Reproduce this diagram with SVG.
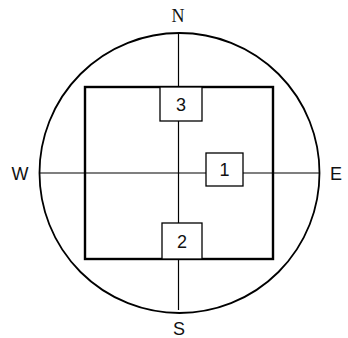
<svg xmlns="http://www.w3.org/2000/svg" width="348" height="338" viewBox="0 0 348 338">
<style>
.ln{stroke:#000;fill:none;stroke-width:1.2}
.thick{stroke:#000;fill:none;stroke-width:2.4}
.box{fill:#fff;stroke:#000;stroke-width:1.3}
.lbl{font-family:"Liberation Sans",Arial,sans-serif;font-size:18px;fill:#111;text-anchor:middle}
.serif{font-family:"Liberation Serif","Times New Roman",serif}
</style>
<rect width="348" height="338" fill="#fff"/>
<g id="circle"><circle cx="179.5" cy="173" r="140" fill="none" stroke="#000" stroke-width="1.8"/></g>
<g id="square"><rect class="thick" x="85" y="87" width="188" height="172"/></g>
<g id="connectors">
<line class="ln" x1="178.5" y1="33" x2="178.5" y2="87"/>
<line class="ln" x1="178.5" y1="121" x2="178.5" y2="223"/>
<line class="ln" x1="178.5" y1="259" x2="178.5" y2="310"/>
<line class="ln" x1="40" y1="173" x2="206" y2="173"/>
<line class="ln" x1="243" y1="173" x2="319" y2="173"/>
</g>
<g id="box3"><rect class="box" x="160" y="87" width="42" height="34"/><text class="lbl" x="181" y="110.5">3</text></g>
<g id="box1"><rect class="box" x="206" y="153" width="37" height="33"/><text class="lbl" x="224.5" y="175.5">1</text></g>
<g id="box2"><rect class="box" x="162" y="223" width="40" height="36"/><text class="lbl" x="182" y="247.5">2</text></g>
<g id="labels">
<text class="lbl serif" x="178" y="22">N</text>
<text class="lbl" x="179" y="335">S</text>
<text class="lbl" x="336" y="179.5">E</text>
<text class="lbl" x="20" y="179.5">W</text>
</g>
</svg>
